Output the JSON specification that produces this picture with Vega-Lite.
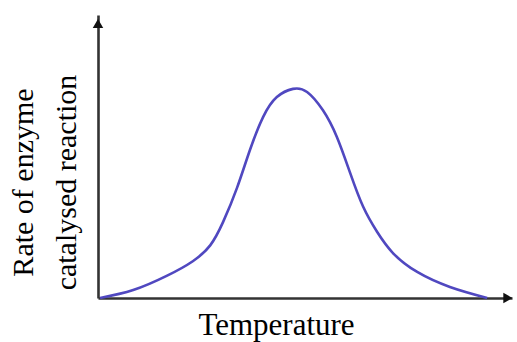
{
  "$schema": "https://vega.github.io/schema/vega-lite/v6.json",
  "width": 414,
  "height": 283,
  "autosize": {"type": "none"},
  "padding": {"left": 98, "top": 15, "right": 5, "bottom": 44},
  "background": "white",
  "config": {"view": {"stroke": null}},
  "datasets": {
    "curve": [
      {"t": 0.5, "r": 0},
      {"t": 8.5, "r": 2.8},
      {"t": 16.7, "r": 7.9},
      {"t": 22.9, "r": 13.0},
      {"t": 27.1, "r": 18.6},
      {"t": 30.2, "r": 26.8},
      {"t": 33.6, "r": 39.0},
      {"t": 36.7, "r": 52.3},
      {"t": 39.9, "r": 64.0},
      {"t": 43.2, "r": 71.0},
      {"t": 47.1, "r": 73.9},
      {"t": 50.5, "r": 72.8},
      {"t": 54.3, "r": 66.4},
      {"t": 57.7, "r": 56.9},
      {"t": 60.9, "r": 44.2},
      {"t": 64.0, "r": 32.4},
      {"t": 67.4, "r": 23.4},
      {"t": 71.3, "r": 15.8},
      {"t": 77.1, "r": 9.2},
      {"t": 85.0, "r": 3.9},
      {"t": 94.0, "r": 0}
    ],
    "arrows": [
      {"t": 0, "r": 97, "shape": "triangle-up"},
      {"t": 99, "r": 0, "shape": "triangle-right"}
    ]
  },
  "layer": [
    {
      "data": {"name": "curve"},
      "mark": {"type": "line", "interpolate": "natural", "color": "#5048c0", "strokeWidth": 2.6},
      "encoding": {
        "x": {
          "field": "t", "type": "quantitative",
          "scale": {"domain": [0, 100], "nice": false, "zero": false},
          "axis": {
            "title": "Temperature",
            "grid": false, "ticks": false, "labels": false,
            "domainColor": "#333333", "domainWidth": 2.6,
            "titleFont": "Liberation Serif", "titleFontSize": 31, "titleFontWeight": "normal",
            "titleColor": "#000000",
            "titleAnchor": null, "titleAlign": "center", "titleBaseline": "alphabetic",
            "titleX": 178, "titleY": 36
          }
        },
        "y": {
          "field": "r", "type": "quantitative",
          "scale": {"domain": [0, 100], "nice": false},
          "axis": {
            "title": ["Rate of enzyme", "catalysed reaction"],
            "grid": false, "ticks": false, "labels": false,
            "domainColor": "#333333", "domainWidth": 2.6,
            "titleFont": "Liberation Serif", "titleFontSize": 30, "titleFontWeight": "normal",
            "titleColor": "#000000", "titleLineHeight": 43,
            "titleAngle": -90, "titleAnchor": null, "titleAlign": "center", "titleBaseline": "alphabetic",
            "titleX": -66, "titleY": 167
          }
        }
      }
    },
    {
      "data": {"name": "arrows"},
      "mark": {"type": "point", "filled": true, "color": "#111111", "size": 110, "opacity": 1},
      "encoding": {
        "x": {"field": "t", "type": "quantitative"},
        "y": {"field": "r", "type": "quantitative"},
        "shape": {"field": "shape", "type": "nominal", "scale": {"domain": ["triangle-up", "triangle-right"], "range": ["triangle-up", "triangle-right"]}, "legend": null}
      }
    }
  ]
}
